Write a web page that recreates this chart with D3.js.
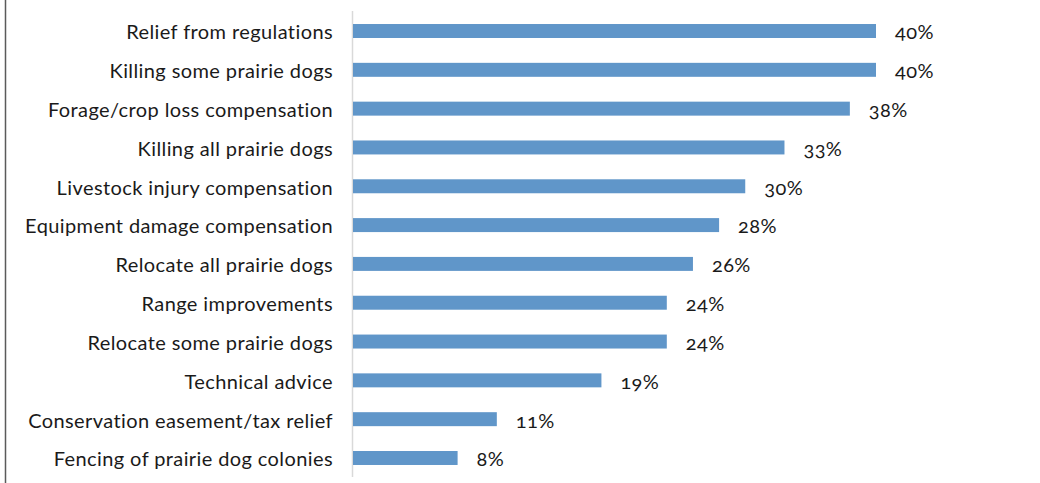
<!DOCTYPE html>
<html>
<head>
<meta charset="utf-8">
<script src="https://cdn.jsdelivr.net/npm/d3@7"></script>
<style>
  html, body { margin: 0; padding: 0; background: #fff; }
  svg { display: block; }
  text { font-family: Lato, "Open Sans", sans-serif; fill: #1a1a1a; font-variant-numeric: oldstyle-nums; letter-spacing: 0.4px; }
</style>
</head>
<body>
<svg id="chart" width="1040" height="483"></svg>
<script>
// Share of respondents interested in each incentive
const categories = [
  "Relief from regulations",
  "Killing some prairie dogs",
  "Forage/crop loss compensation",
  "Killing all prairie dogs",
  "Livestock injury compensation",
  "Equipment damage compensation",
  "Relocate all prairie dogs",
  "Range improvements",
  "Relocate some prairie dogs",
  "Technical advice",
  "Conservation easement/tax relief",
  "Fencing of prairie dog colonies"
];
const values = [40, 40, 38, 33, 30, 28, 26, 24, 24, 19, 11, 8];
const valueLabels = ["40%", "40%", "38%", "33%", "30%", "28%", "26%", "24%", "24%", "19%", "11%", "8%"];

const width = 1040, height = 483;
const fontSize = 20;

const svg = d3.select("#chart");

// outer frame line on the left
svg.append("line")
  .attr("x1", 5.5).attr("x2", 5.5)
  .attr("y1", 0).attr("y2", height)
  .attr("stroke", "#5a5a5a").attr("stroke-width", 1.5);

const x = d3.scaleLinear().domain([0, 40]).range([353, 876]);
const y = d3.scaleBand()
  .domain(categories)
  .range([11.6, 477.4])
  .paddingInner(0.64)
  .paddingOuter(0.32);

// category axis line
svg.append("line")
  .attr("x1", 352.5).attr("x2", 352.5)
  .attr("y1", 11).attr("y2", 477)
  .attr("stroke", "#d9d9d9").attr("stroke-width", 1.5);

// bars
svg.append("g")
  .selectAll("rect")
  .data(categories)
  .join("rect")
  .attr("x", x(0))
  .attr("y", d => y(d))
  .attr("width", (d, i) => x(values[i]) - x(0))
  .attr("height", y.bandwidth())
  .attr("fill", "#6096c9");

// category labels
svg.append("g")
  .selectAll("text")
  .data(categories)
  .join("text")
  .attr("x", 333)
  .attr("y", d => y(d) + y.bandwidth() / 2)
  .attr("dy", "0.42em")
  .attr("text-anchor", "end")
  .attr("font-size", fontSize)
  .text(d => d);

// value labels
svg.append("g")
  .selectAll("text")
  .data(categories)
  .join("text")
  .attr("x", (d, i) => x(values[i]) + 19)
  .attr("y", d => y(d) + y.bandwidth() / 2)
  .attr("dy", "0.42em")
  .attr("text-anchor", "start")
  .attr("font-size", fontSize)
  .text((d, i) => valueLabels[i]);
</script>
</body>
</html>
